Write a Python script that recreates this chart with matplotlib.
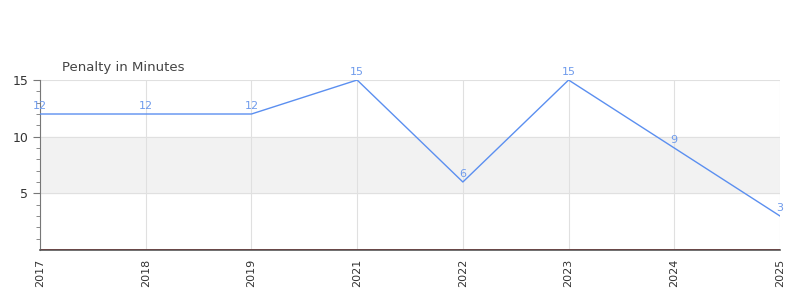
import matplotlib
matplotlib.use("Agg")
import matplotlib.pyplot as plt

# data
years = ["2017", "2018", "2019", "2021", "2022", "2023", "2024", "2025"]
penalty = [12, 12, 12, 15, 6, 15, 9, 3]

x = list(range(len(years)))

fig = plt.figure(figsize=(8, 3), dpi=100)
ax = fig.add_axes([0.05, 0.1667, 0.925, 0.5666])

# shaded band between 5 and 10
ax.axhspan(5, 10, color="#f2f2f2", zorder=0)

ax.plot(x, penalty, color="#5b8ff0", linewidth=1, zorder=3)
for xi, v in zip(x, penalty):
    ax.text(xi, v + 0.25, str(v), color="#6f9bec", fontsize=8,
            ha="center", va="bottom", zorder=4)

ax.axhline(0.1, color="#cc0000", linewidth=0.7, zorder=2)

ax.set_xlim(0, len(years) - 1)
ax.set_ylim(0, 15)
ax.set_xticks(x)
ax.set_xticklabels(years, rotation=90, fontsize=8, color="#333333")
ax.set_yticks([5, 10, 15])
ax.set_yticks([1, 2, 3, 4, 6, 7, 8, 9, 11, 12, 13, 14], minor=True)
ax.tick_params(axis="y", labelsize=9, colors="#333333", length=5, color="#777777")
ax.tick_params(axis="y", which="minor", length=3, color="#777777")
ax.tick_params(axis="x", length=0, pad=6)

ax.grid(True, color="#e0e0e0", linewidth=0.8, zorder=1)
ax.set_axisbelow(True)

for s in ["top", "right"]:
    ax.spines[s].set_visible(False)
ax.spines["left"].set_color("#777777")
ax.spines["bottom"].set_color("#555555")
ax.spines["bottom"].set_linewidth(1.2)

fig.text(62 / 800, 1 - 67 / 300, "Penalty in Minutes", fontsize=9.5,
         color="#444444", ha="left", va="center")

fig.savefig("out.png", dpi=100)
